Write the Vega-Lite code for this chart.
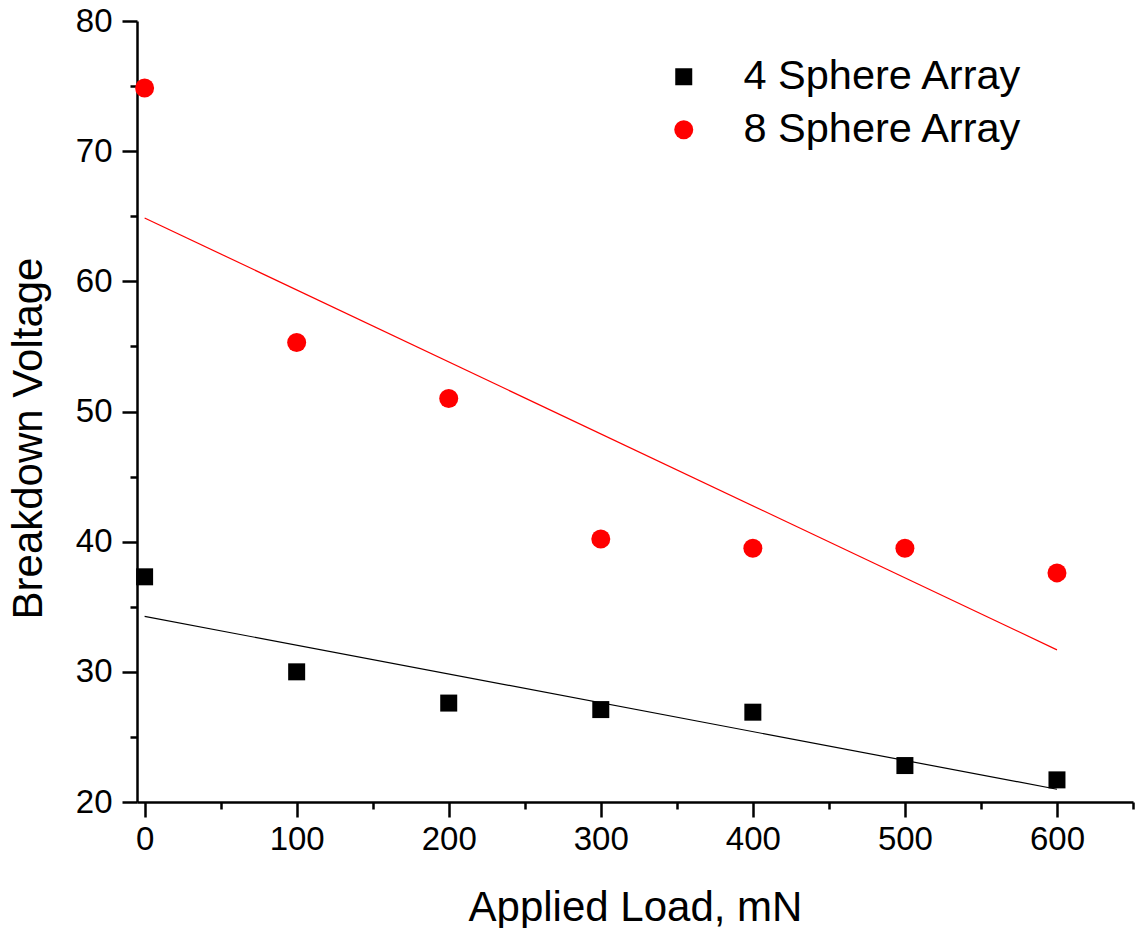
{
  "$schema": "https://vega.github.io/schema/vega-lite/v6.json",
  "width": 996,
  "height": 781,
  "autosize": {"type": "none"},
  "padding": {"left": 137, "top": 21, "right": 2, "bottom": 126},
  "background": "white",
  "datasets": {
    "points": [
      {"load": 0, "voltage": 37.3, "series": "4 Sphere Array"},
      {"load": 100, "voltage": 30.0, "series": "4 Sphere Array"},
      {"load": 200, "voltage": 27.6, "series": "4 Sphere Array"},
      {"load": 300, "voltage": 27.1, "series": "4 Sphere Array"},
      {"load": 400, "voltage": 26.9, "series": "4 Sphere Array"},
      {"load": 500, "voltage": 22.8, "series": "4 Sphere Array"},
      {"load": 600, "voltage": 21.7, "series": "4 Sphere Array"},
      {"load": 0, "voltage": 74.85, "series": "8 Sphere Array"},
      {"load": 100, "voltage": 55.3, "series": "8 Sphere Array"},
      {"load": 200, "voltage": 51.0, "series": "8 Sphere Array"},
      {"load": 300, "voltage": 40.2, "series": "8 Sphere Array"},
      {"load": 400, "voltage": 39.5, "series": "8 Sphere Array"},
      {"load": 500, "voltage": 39.5, "series": "8 Sphere Array"},
      {"load": 600, "voltage": 37.6, "series": "8 Sphere Array"}
    ],
    "fits": [
      {"load": 0, "voltage": 34.26, "series": "4 Sphere Array"},
      {"load": 600, "voltage": 20.98, "series": "4 Sphere Array"},
      {"load": 0, "voltage": 64.87, "series": "8 Sphere Array"},
      {"load": 600, "voltage": 31.69, "series": "8 Sphere Array"}
    ]
  },
  "config": {
    "font": "Liberation Sans",
    "view": {"stroke": null},
    "axis": {
      "labelFont": "Liberation Sans",
      "titleFont": "Liberation Sans",
      "labelColor": "#000000",
      "titleColor": "#000000",
      "domainColor": "#000000",
      "tickColor": "#000000",
      "domainWidth": 2.5,
      "tickWidth": 2.5,
      "grid": false
    },
    "legend": {
      "labelFont": "Liberation Sans",
      "labelFontSize": 41.5,
      "labelColor": "#000000",
      "labelLimit": 500,
      "labelOffset": 39,
      "rowPadding": 10,
      "padding": 0
    }
  },
  "resolve": {"axis": {"x": "independent", "y": "independent"}},
  "layer": [
    {
      "data": {"name": "fits"},
      "transform": [{"filter": "datum.series === '4 Sphere Array'"}],
      "mark": {"type": "line", "strokeWidth": 1.2, "color": "#000000"},
      "encoding": {
        "x": {
          "field": "load", "type": "quantitative",
          "scale": {"domain": [-5, 650], "nice": false, "zero": false},
          "axis": {
            "orient": "bottom",
            "values": [0, 100, 200, 300, 400, 500, 600],
            "tickSize": 15,
            "labelFontSize": 33,
            "labelPadding": 6,
            "title": "Applied Load, mN",
            "titleFontSize": 42,
            "titleFontWeight": "normal",
            "titlePadding": 31
          }
        },
        "y": {
          "field": "voltage", "type": "quantitative",
          "scale": {"domain": [20, 80], "nice": false, "zero": false},
          "axis": {
            "orient": "left",
            "values": [20, 30, 40, 50, 60, 70, 80],
            "tickSize": 15,
            "labelFontSize": 33,
            "labelPadding": 10,
            "title": "Breakdown Voltage",
            "titleFontSize": 42,
            "titleFontWeight": "normal",
            "titlePadding": 25,
            "titleY": 417
          }
        }
      }
    },
    {
      "data": {"name": "fits"},
      "transform": [{"filter": "datum.series === '8 Sphere Array'"}],
      "mark": {"type": "line", "strokeWidth": 1.2, "color": "#ff0000"},
      "encoding": {
        "x": {"field": "load", "type": "quantitative", "axis": null},
        "y": {"field": "voltage", "type": "quantitative", "axis": null}
      }
    },
    {
      "data": {"name": "points"},
      "mark": {"type": "point", "filled": true, "opacity": 1},
      "encoding": {
        "x": {
          "field": "load", "type": "quantitative",
          "axis": {
            "orient": "bottom",
            "values": [50, 150, 250, 350, 450, 550, 650],
            "tickSize": 7,
            "labels": false,
            "domain": false,
            "title": null
          }
        },
        "y": {
          "field": "voltage", "type": "quantitative",
          "axis": {
            "orient": "left",
            "values": [25, 35, 45, 55, 65, 75],
            "tickSize": 7,
            "labels": false,
            "domain": false,
            "title": null
          }
        },
        "size": {
          "field": "series", "type": "nominal",
          "scale": {"domain": ["4 Sphere Array", "8 Sphere Array"], "range": [289, 361]},
          "legend": {"title": null, "orient": "none", "legendX": 526, "legendY": 35}
        },
        "color": {
          "field": "series", "type": "nominal",
          "scale": {"domain": ["4 Sphere Array", "8 Sphere Array"], "range": ["#000000", "#ff0000"]},
          "legend": {"title": null, "orient": "none", "legendX": 526, "legendY": 35}
        },
        "shape": {
          "field": "series", "type": "nominal",
          "scale": {"domain": ["4 Sphere Array", "8 Sphere Array"], "range": ["square", "circle"]},
          "legend": {"title": null, "orient": "none", "legendX": 526, "legendY": 35}
        }
      }
    }
  ]
}
